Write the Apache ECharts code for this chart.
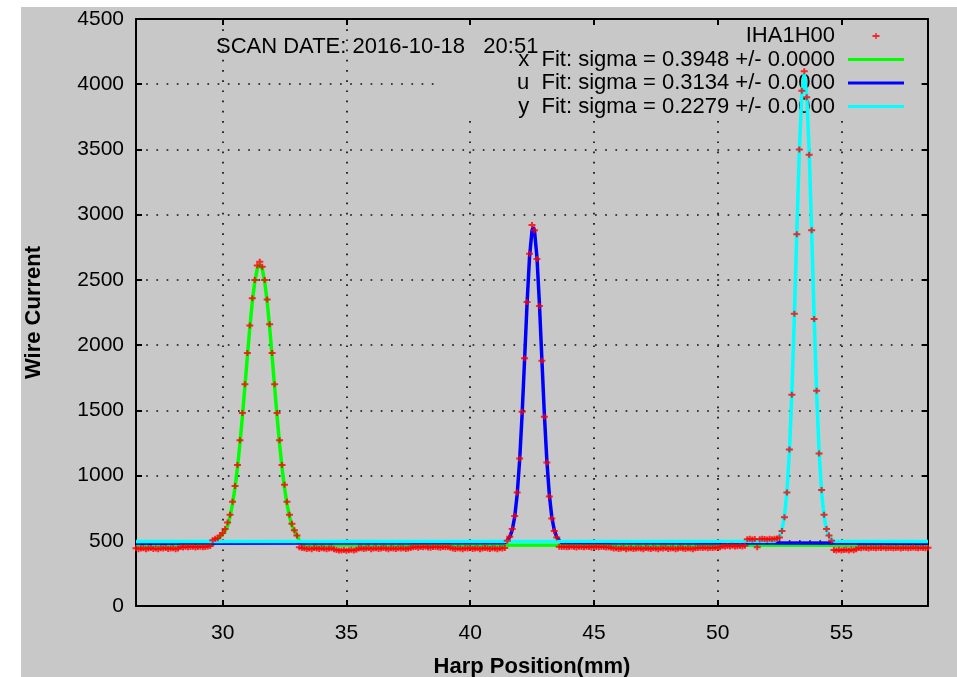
<!DOCTYPE html>
<html><head><meta charset="utf-8">
<script src="https://cdn.jsdelivr.net/npm/echarts@6/dist/echarts.min.js"></script>
<style>
html,body{margin:0;padding:0;background:#fff;width:957px;height:677px;overflow:hidden}
#c{position:absolute;left:21px;top:7px;width:936px;height:670px;background:#c8c8c8}
</style>
</head><body><div id="c"></div>
<script>
// ---------- data ----------
const titleText = 'SCAN DATE: 2016-10-18   20:51';
const dataName = 'IHA1H00';
const fitNames = ['x  Fit: sigma = 0.3948 +/- 0.0000', 'u  Fit: sigma = 0.3134 +/- 0.0000', 'y  Fit: sigma = 0.2279 +/- 0.0000'];
const xAxisMin = 26.5, xAxisMax = 58.5;
const yAxisMin = 0, yAxisMax = 4500, yAxisStep = 500;

// measured wire current, harp scan from 26.5 mm in 0.1 mm steps
const scanStart = 26.5, scanStep = 0.1;
const wireCurrent = [
  // 26.5 - 28.2
  442, 436, 440, 443, 435, 440, 444, 437, 441, 436, 443, 440, 444, 437, 440, 443, 436, 441,
  // 28.3 - 29.5
  452, 449, 454, 450, 452, 455, 449, 452, 454, 450, 452, 456, 460,
  // 29.6 - 33.2 (x wire)
  505, 515, 520, 540, 560, 590, 640, 700, 800, 920, 1080, 1270, 1480, 1700, 1940, 2150, 2360, 2500, 2610, 2640,
  2600, 2500, 2350, 2160, 1940, 1700, 1480, 1270, 1080, 930, 800, 700, 630, 580, 540, 450, 445,
  // 33.3 - 34.5
  442, 437, 441, 436, 444, 440, 437, 442, 440, 436, 441, 443, 435,
  // 34.6 - 35.4
  430, 426, 425, 429, 424, 427, 431, 425, 432,
  // 35.5 - 37.6
  440, 443, 437, 440, 444, 436, 440, 442, 437, 440, 444, 440, 436, 442, 440, 437, 443, 440, 442, 437, 440, 445,
  // 37.7 - 39.2
  450, 453, 447, 452, 450, 454, 449, 446, 452, 453, 450, 447, 452, 450, 453, 446,
  // 39.3 - 41.4
  440, 437, 442, 440, 436, 442, 440, 444, 437, 440, 442, 436, 440, 444, 440, 437, 442, 440, 436, 442, 440, 444,
  // 41.5 - 43.6 (u wire)
  500, 530, 590, 690, 870, 1130, 1490, 1900, 2330, 2700, 2920, 2880, 2660, 2300, 1880, 1450, 1100, 840, 670, 575, 525, 455,
  // 43.7 - 45.7
  452, 455, 450, 452, 456, 452, 449, 454, 452, 450, 455, 452, 449, 456, 452, 450, 454, 452, 449, 451, 447,
  // 45.8 - 49.2
  440, 443, 437, 440, 444, 436, 440, 442, 437, 440, 443, 440, 436, 444, 440, 437, 442, 440, 436, 442,
  440, 444, 437, 440, 443, 436, 440, 444, 440, 437, 442, 440, 436, 442, 444,
  // 49.3 - 50.1
  446, 444, 448, 443, 447, 445, 448, 446, 450,
  // 50.2 - 51.1
  458, 456, 460, 457, 461, 456, 458, 460, 457, 462,
  // 51.2 - 52.4
  512, 515, 510, 514, 450, 512, 515, 513, 510, 515, 512, 516, 517,
  // 52.5 - 54.6 (y wire)
  525, 575, 680, 870, 1200, 1620, 2240, 2850, 3500, 3950, 4100, 3900, 3460, 2880, 2200, 1650, 1170, 890, 700, 590, 540, 500,
  // 54.7 - 55.6
  430, 426, 432, 425, 429, 431, 426, 433, 428, 436,
  // 55.7 - 58.5
  445, 442, 447, 445, 441, 447, 445, 442, 447, 445, 448, 442, 445, 447, 442, 445, 447, 441, 445, 447,
  442, 445, 448, 445, 442, 447, 445, 442, 447
];

// fit curves
const xFitPos = [26.5, 29.6, 29.7, 29.8, 29.9, 30.0, 30.1, 30.2, 30.3, 30.4, 30.5, 30.6, 30.7, 30.8, 30.9, 31.0,
  31.1, 31.2, 31.3, 31.4, 31.5, 31.6, 31.7, 31.8, 31.9, 32.0, 32.1, 32.2, 32.3, 32.4, 32.5, 32.6, 32.7, 32.8, 32.9,
  33.0, 33.1, 33.2, 58.5];
const xFitVal = [466, 468, 495, 515, 530, 550, 575, 615, 687, 782, 906, 1061, 1245, 1454, 1681, 1913,
  2136, 2333, 2487, 2586, 2620, 2586, 2487, 2333, 2136, 1913, 1681, 1454, 1245, 1061, 906, 782, 687, 615, 575,
  545, 500, 468, 466];
const uFitPos = [26.5, 41.4, 41.5, 41.6, 41.7, 41.8, 41.9, 42.0, 42.1, 42.2, 42.3, 42.4, 42.5, 42.55, 42.6, 42.7,
  42.8, 42.9, 43.0, 43.1, 43.2, 43.3, 43.4, 43.5, 43.6, 43.7, 58.5];
const uFitVal = [482, 484, 503, 528, 582, 682, 853, 1114, 1467, 1887, 2317, 2674, 2878, 2905, 2878, 2674,
  2317, 1887, 1467, 1114, 853, 682, 582, 528, 503, 484, 482];
const yFitPos = [26.5, 52.3, 52.4, 52.5, 52.6, 52.7, 52.8, 52.9, 53.0, 53.1, 53.2, 53.3, 53.4, 53.5, 53.6, 53.7,
  53.8, 53.9, 54.0, 54.1, 54.2, 54.3, 54.4, 54.5, 54.6, 54.7, 58.5];
const yFitVal = [495, 496, 511, 533, 584, 687, 875, 1183, 1634, 2216, 2867, 3479, 3919, 4080, 3919, 3479,
  2867, 2216, 1634, 1183, 875, 687, 584, 533, 511, 497, 495];

// ---------- chart ----------
const FONT = '"Liberation Sans", Arial, Helvetica, sans-serif';
const BG = '#c8c8c8';
const scanData = wireCurrent.map((v, i) => [Math.round((scanStart + i * scanStep) * 100) / 100, v]);
const pairs = (xs, ys) => xs.map((x, i) => [x, ys[i]]);

const plusSymbol = 'path://M0,2h7v2h-7z M2.5,0h2v6h-2z';
const plusIcon = 'path://M0,0h.01v.01h-.01z M24.5,9h7v2h-7z M27.25,7h1.5v6h-1.5z M55.99,19.99h.01v.01h-.01z';
const lineIcon = 'path://M0,0h.01v.01h-.01z M0,8.5h56v3h-56z M55.99,19.99h.01v.01h-.01z';

const axisLineStyle = { color: '#000', width: 2 };
const gridDots = { color: '#111', width: 1.7, type: [1.7, 8.5] };
const plainNum = v => String(v);

const chart = echarts.init(document.getElementById('c'));
chart.setOption({
  animation: false,
  backgroundColor: BG,
  textStyle: { fontFamily: FONT },
  title: {
    text: titleText, left: 195, top: 29, padding: 0,
    textStyle: { fontSize: 22, fontWeight: 'normal', color: '#000', fontFamily: FONT }
  },
  legend: {
    orient: 'vertical', align: 'right', right: 53, top: 18, padding: 0,
    itemGap: 1.5, itemWidth: 56, itemHeight: 20, z: 3, selectedMode: false,
    itemStyle: { borderWidth: 0 },
    textStyle: { fontSize: 22, color: '#000', fontFamily: FONT, padding: [0, 8, 0, 0] },
    data: [
      { name: dataName, icon: plusIcon },
      { name: fitNames[0], icon: lineIcon },
      { name: fitNames[1], icon: lineIcon },
      { name: fitNames[2], icon: lineIcon }
    ]
  },
  graphic: [{
    type: 'rect', z: 1, silent: true,
    shape: { x: 417, y: 19, width: 477, height: 91 },
    style: { fill: BG }
  }],
  grid: { left: 115, top: 12, right: 29, bottom: 71, containLabel: false, outerBoundsMode: 'none' },
  xAxis: [{
    type: 'value', position: 'bottom', min: xAxisMin, max: xAxisMax, splitNumber: 6,
    name: 'Harp Position(mm)', nameLocation: 'middle', nameGap: 50,
    nameTextStyle: { fontSize: 22, fontWeight: 'bold', color: '#000', fontFamily: FONT },
    axisLine: { onZero: false, lineStyle: axisLineStyle },
    axisTick: { inside: true, length: 6, lineStyle: axisLineStyle },
    axisLabel: { fontSize: 21, color: '#000', margin: 17, showMinLabel: false, showMaxLabel: false, fontFamily: FONT, formatter: plainNum },
    splitLine: { show: true, lineStyle: gridDots }
  }, {
    type: 'value', position: 'top', min: xAxisMin, max: xAxisMax, splitNumber: 6,
    axisLine: { onZero: false, lineStyle: axisLineStyle },
    axisTick: { inside: true, length: 6, lineStyle: axisLineStyle },
    axisLabel: { show: false }, splitLine: { show: false }
  }],
  yAxis: [{
    type: 'value', position: 'left', min: yAxisMin, max: yAxisMax, interval: yAxisStep,
    name: 'Wire Current', nameLocation: 'middle', nameGap: 91,
    nameTextStyle: { fontSize: 22, fontWeight: 'bold', color: '#000', fontFamily: FONT },
    axisLine: { show: true, onZero: false, lineStyle: axisLineStyle },
    axisTick: { show: true, inside: true, length: 6, lineStyle: axisLineStyle },
    axisLabel: { fontSize: 21, color: '#000', margin: 12, fontFamily: FONT, formatter: plainNum },
    splitLine: { show: true, lineStyle: gridDots }
  }, {
    type: 'value', position: 'right', min: yAxisMin, max: yAxisMax, interval: yAxisStep,
    axisLine: { show: true, onZero: false, lineStyle: axisLineStyle },
    axisTick: { show: true, inside: true, length: 6, lineStyle: axisLineStyle },
    axisLabel: { show: false }, splitLine: { show: false }
  }],
  series: [
    { name: dataName, type: 'scatter', z: 5, data: scanData, symbol: plusSymbol, symbolSize: [7, 6],
      itemStyle: { color: '#ff0000' }, silent: true },
    { name: fitNames[0], type: 'line', z: 5, data: pairs(xFitPos, xFitVal), symbol: 'none', color: '#00ff00',
      lineStyle: { color: '#00ff00', width: 3.5 }, silent: true },
    { name: fitNames[1], type: 'line', z: 5, data: pairs(uFitPos, uFitVal), symbol: 'none', color: '#0000ff',
      lineStyle: { color: '#0000ff', width: 3.5 }, silent: true },
    { name: fitNames[2], type: 'line', z: 5, data: pairs(yFitPos, yFitVal), symbol: 'none', color: '#00ffff',
      lineStyle: { color: '#00ffff', width: 3.5 }, silent: true }
  ]
});
</script>
</body></html>
